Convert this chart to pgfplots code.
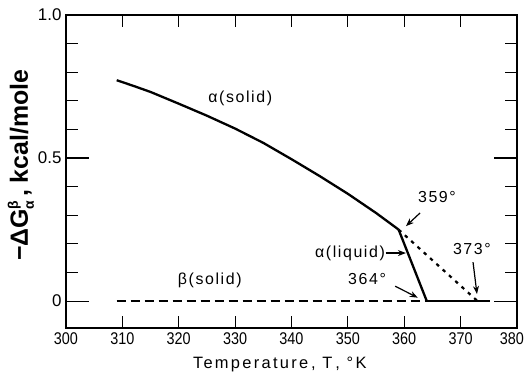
\documentclass[border=0pt]{standalone}
\usepackage{fontspec}
\setmainfont{Liberation Sans}
\newfontfamily\lab[LetterSpace=10]{Liberation Sans}
\newfontfamily\labx[LetterSpace=14]{Liberation Sans}
\usepackage{graphicx}
\usepackage{pgfplots}
\pgfplotsset{compat=1.18}
\usetikzlibrary{arrows.meta}
\newcommand{\xl}[1]{\scalebox{0.85}[1]{#1}}
\begin{document}
\begin{tikzpicture}
\useasboundingbox (0,0) rectangle (525bp,375bp);
\begin{axis}[
  at={(66bp,47bp)}, anchor=south west,
  scale only axis, width=451bp, height=313bp,
  xmin=300, xmax=380, ymin=-0.094, ymax=1.0,
  axis line style={line width=1.3bp},
  tick align=inside,
  /pgf/number format/assume math mode=true,
  xtick={300,310,...,380},
  xticklabels={\xl{300},\xl{310},\xl{320},\xl{330},\xl{340},\xl{350},\xl{360},\xl{370},\hbox to 0pt{\hss\xl{380}\hspace{-7bp}}},
  ytick={0,0.1,0.2,0.3,0.4,0.5,0.6,0.7,0.8,0.9,1.0},
  yticklabels={0,,,,,0.5,,,,,1.0},
  major tick length=12bp,
  extra y ticks={0,0.5},
  extra y tick labels={},
  extra y tick style={major tick length=23bp},
  tick style={line width=1.2bp, black},
  tick label style={font=\fontsize{17}{17}\selectfont},
  xticklabel style={yshift=-1.5bp},
  yticklabel style={xshift=-1bp},
  xlabel={{\labx Temperature\,, T\,, °K}},
  xlabel style={font=\fontsize{16.5}{16.5}\selectfont, at={(axis description cs:0.474,-0.118)}, anchor=center},
  ylabel={{\bfseries −ΔG\rlap{\raisebox{0.75ex}{\fontsize{14}{14}\selectfont β}}\raisebox{-0.45ex}{\fontsize{14}{14}\selectfont α}\hspace{0.15em}, kcal/mole}},
  ylabel style={font=\fontsize{25}{25}\selectfont, at={(axis description cs:-0.1,0.52)}, anchor=center},
  clip=false,
]
% alpha (solid)
\addplot[black, line width=2.3bp] coordinates {
 (309,0.772) (312,0.752) (315,0.731) (320,0.690) (325,0.648) (330,0.603)
 (335,0.553) (340,0.496) (345,0.437) (350,0.375) (355,0.308) (359,0.250)
};
% alpha (liquid)
\addplot[black, line width=2.3bp] coordinates {(359,0.250) (364,0)};
\addplot[black, line width=2.3bp] coordinates {(364,0) (375,0)};
% metastable extension
\addplot[black, line width=2.2bp, dash pattern=on 3.5bp off 5bp] coordinates {(359,0.250) (373,0)};
% beta (solid)
\addplot[black, line width=1.9bp, dash pattern=on 9bp off 5bp] coordinates {(309,0) (375.5,0)};

\node[font=\fontsize{16}{16}\selectfont\lab] at (axis cs:330.9,0.71) {α(solid)};
\node[font=\fontsize{16}{16}\selectfont\lab] at (axis cs:325.5,0.073) {β(solid)};
\node[font=\fontsize{16}{16}\selectfont\lab, anchor=east, inner sep=0pt] at (axis cs:356.6,0.168) {α(liquid)};
\node[font=\fontsize{16}{16}\selectfont\lab] at (axis cs:365.8,0.364) {359°};
\node[font=\fontsize{16}{16}\selectfont\lab] at (axis cs:372.0,0.182) {373°};
\node[font=\fontsize{16}{16}\selectfont\lab] at (axis cs:353.4,0.077) {364°};
\draw[line width=1.2bp, -{Stealth[length=8bp,width=6bp]}] (axis cs:356.7,0.168) -- (axis cs:360.3,0.168);
\draw[line width=1.2bp, -{Stealth[length=8bp,width=6bp]}] (axis cs:362.8,0.308) -- (axis cs:360.3,0.262);
\draw[line width=1.2bp, -{Stealth[length=8bp,width=6bp]}] (axis cs:372.2,0.136) -- (axis cs:372.9,0.025);
\draw[line width=1.2bp, -{Stealth[length=8bp,width=6bp]}] (axis cs:358.4,0.052) -- (axis cs:362.4,0.012);
\end{axis}
\end{tikzpicture}
\end{document}
